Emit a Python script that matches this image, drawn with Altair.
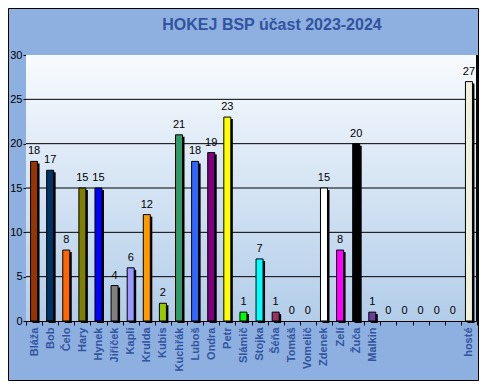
import altair as alt
import pandas as pd

names = ["Bláža", "Bob", "Čelo", "Hary", "Hynek", "Jiříček", "Kapli", "Krulda",
         "Kubis", "Kuchřák", "Luboš", "Ondra", "Petr", "Slámič", "Stojka", "Šéňa",
         "Tomáš", "Vomelič", "Zdenek", "Zelí", "Žuča", "Malkin",
         " ", "  ", "   ", "    ", "     ", "hosté"]
values = [18, 17, 8, 15, 15, 4, 6, 12, 2, 21, 18, 19, 23, 1, 7, 1,
          0, 0, 15, 8, 20, 1, 0, 0, 0, 0, 0, 27]
colors = ["#993300", "#003366", "#FF6600", "#808000", "#0000FF", "#808080",
          "#9999FF", "#FF9900", "#99CC00", "#339966", "#3366FF", "#800080",
          "#FFFF00", "#00FF00", "#00FFFF", "#993366", "#FFFFFF", "#FFFFFF",
          "#FFFFFF", "#FF00FF", "#000000", "#6B3FA0", "#FFFFFF", "#FFFFFF",
          "#FFFFFF", "#FFFFFF", "#FFFFFF", "#EEF2DC"]
y_ticks = [0, 5, 10, 15, 20, 25, 30]
grid_values = [5, 10, 15, 20, 25]
title_text = "HOKEJ BSP účast 2023-2024"

W, H = 451, 266
PL, PT, PR, PB = 18, 47, 2, 60
FONT = "Liberation Sans"

df = pd.DataFrame({"name": names, "value": values, "color": colors})
grid_df = pd.DataFrame({"g": grid_values})

xenc = alt.X("name:N", sort=names,
             scale=alt.Scale(paddingInner=0, paddingOuter=0),
             axis=alt.Axis(title=None, labelAngle=-90, labelColor="#33539E",
                           labelFont=FONT, labelFontSize=11, labelFontWeight="bold",
                           labelPadding=2, tickBand="extent", tickColor="black",
                           tickSize=4, domainColor="black", labelOverlap=False))
yscale = alt.Scale(domain=[0, 30], nice=False)
yenc = alt.Y("value:Q", scale=yscale,
             axis=alt.Axis(title=None, values=y_ticks, grid=False, labelColor="black",
                           labelFont=FONT, labelFontSize=11, labelPadding=1,
                           tickSize=3, tickColor="black", domainColor="black"))

gradient = {"gradient": "linear", "x1": 0, "y1": 0, "x2": 0, "y2": 1,
            "stops": [{"offset": 0, "color": "#F8FBFE"},
                      {"offset": 1, "color": "#B2CDE9"}]}

bg = alt.Chart(grid_df).mark_rect(color=gradient).encode(
    y=alt.datum(0, scale=yscale), y2=alt.datum(30))

grid = alt.Chart(grid_df).mark_rule(color="black", strokeWidth=1).encode(
    y=alt.Y("g:Q", scale=yscale))

right_line = alt.Chart(grid_df).mark_rule(color="black").encode(
    x=alt.value(W), y=alt.datum(0, scale=yscale), y2=alt.datum(30))

base = alt.Chart(df)
bars_df = base.transform_filter("datum.value > 0")

shadow = bars_df.mark_bar(width=7, color="black", xOffset=2, yOffset=2).encode(
    x=xenc, y=yenc)
bars = bars_df.mark_bar(width=7, stroke="black", strokeWidth=1).encode(
    x=xenc, y=yenc,
    color=alt.Color("color:N", scale=None))
labels = base.mark_text(font=FONT, fontSize=11, color="black", dy=-7,
                        baseline="alphabetic").encode(
    x=xenc, y=yenc, text="value:Q")

title = alt.Chart(pd.DataFrame({"t": [title_text]})).mark_text(
    font=FONT, fontSize=16, fontWeight="bold", color="#33539E",
    baseline="middle", align="center").encode(
    x=alt.value(246), y=alt.value(-30), text="t:N")

border = alt.Chart(pd.DataFrame({"t": [title_text]})).mark_rect(
    filled=False, stroke="black", strokeWidth=1, clip=False).encode(
    x=alt.value(-PL + 0.5), x2=alt.value(W + PR - 0.5),
    y=alt.value(-PT + 0.5), y2=alt.value(H + PB - 0.5))

chart = alt.layer(bg, grid, right_line, shadow, bars, labels, title, border).properties(
    width=W, height=H,
    autosize=alt.AutoSizeParams(type="none"),
    padding={"left": PL, "top": PT, "right": PR, "bottom": PB},
).configure(background="#8DB0E0").configure_view(stroke=None)

chart.save("out.html", embed_options={"renderer": "svg", "actions": False})
